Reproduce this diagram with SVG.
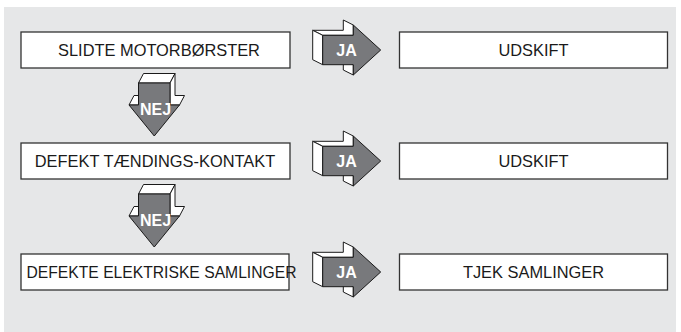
<svg xmlns="http://www.w3.org/2000/svg" width="681" height="332" viewBox="0 0 681 332">
<style>
.panel{fill:#e6e7e8}
.box{fill:#ffffff;stroke:#333333;stroke-width:1.3}
.lbl{font-family:"Liberation Sans",Arial,sans-serif;font-size:16.4px;fill:#1a1a1a;text-anchor:middle}
.face{fill:#ffffff;stroke:#1a1a1a;stroke-width:1;stroke-linejoin:round}
.front{fill:#78797c;stroke:#1a1a1a;stroke-width:1;stroke-linejoin:round}
.atx{font-family:"Liberation Sans",Arial,sans-serif;font-size:16px;font-weight:bold;fill:#ffffff;text-anchor:middle}
</style>
<defs>
<g id="ja">
<polygon class="face" points="312.7,-19.7 343.3,-19.7 343.3,-30 353.3,-25 353.3,-14.7 322.7,-14.7"/>
<polygon class="face" points="312.7,-19.7 322.7,-14.7 322.7,14.7 312.7,9.7"/>
<polygon class="face" points="343.3,9.7 353.3,14.7 353.3,25 343.3,20"/>
<polygon class="front" points="322.7,-14.7 353.3,-14.7 353.3,-25 380.7,0 353.3,25 353.3,14.7 322.7,14.7"/>
<text class="atx" x="346.5" y="6">JA</text>
</g>
<g id="nej">
<polygon class="face" points="138.5,83 143.5,73.5 175,73.5 170,83"/>
<polygon class="face" points="170,83 175,73.5 175,95.5 184.5,95.5 179.5,105 170,105"/>
<polygon class="face" points="129,105 134,95.5 143.5,95.5 138.5,105"/>
<polygon class="front" points="138.5,83 170,83 170,105 179.5,105 154.25,136 129,105 138.5,105"/>
<text class="atx" x="155.5" y="114.5">NEJ</text>
</g>
</defs>
<rect class="panel" x="4" y="7" width="672" height="325"/>
<g id="connectors">
<use href="#nej" transform="translate(0,0)"/>
<use href="#nej" transform="translate(0,111)"/>
<use href="#ja" transform="translate(0,50)"/>
<use href="#ja" transform="translate(0,161)"/>
<use href="#ja" transform="translate(0,272)"/>
</g>
<g id="n1">
<rect class="box" x="21" y="32" width="269" height="36"/>
<text class="lbl" x="159" y="55.8">SLIDTE MOTORBØRSTER</text>
</g>
<g id="r1">
<rect class="box" x="399.5" y="32" width="268" height="36"/>
<text class="lbl" x="533.5" y="55.8">UDSKIFT</text>
</g>
<g id="n2">
<rect class="box" x="21" y="143" width="269" height="36"/>
<text class="lbl" x="155" y="166.8">DEFEKT TÆNDINGS-KONTAKT</text>
</g>
<g id="r2">
<rect class="box" x="399.5" y="143" width="268" height="36"/>
<text class="lbl" x="533.5" y="166.8">UDSKIFT</text>
</g>
<g id="n3">
<rect class="box" x="21" y="254" width="268" height="36"/>
<text class="lbl" x="161.5" y="277.8" textLength="270" lengthAdjust="spacingAndGlyphs">DEFEKTE ELEKTRISKE SAMLINGER</text>
</g>
<g id="r3">
<rect class="box" x="399.5" y="254" width="268" height="36"/>
<text class="lbl" x="533.5" y="277.8">TJEK SAMLINGER</text>
</g>
</svg>
